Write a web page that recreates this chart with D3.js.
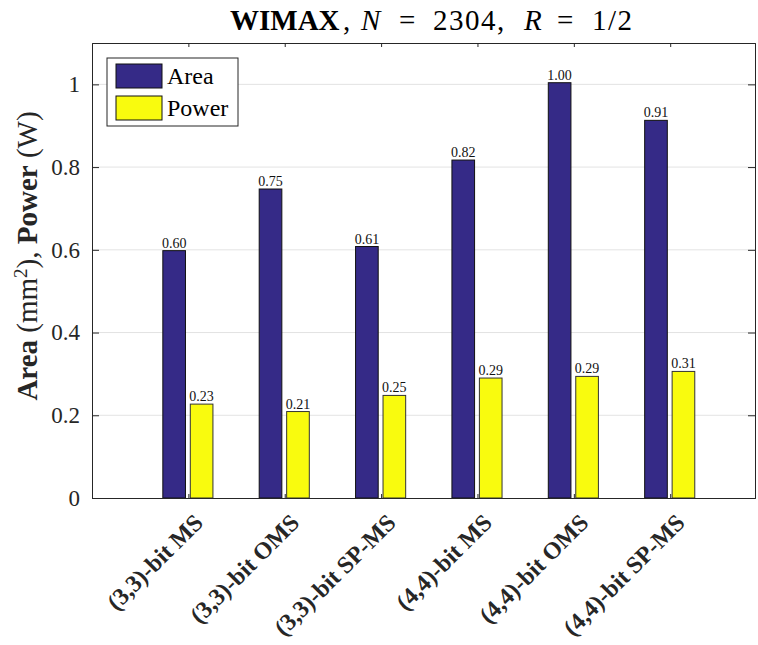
<!DOCTYPE html>
<html lang="en">
<head>
  <meta charset="UTF-8">
  <title>WIMAX Area / Power</title>
  <script src="https://cdn.jsdelivr.net/npm/d3@7"></script>
  <style>
    body { margin: 0; background: white; }
    svg { display: block; font-family: "Liberation Serif", "DejaVu Serif", serif; }
  </style>
</head>
<body>
  <div id="chart"></div>
  <script>
    const categories = ['(3,3)-bit MS', '(3,3)-bit OMS', '(3,3)-bit SP-MS', '(4,4)-bit MS', '(4,4)-bit OMS', '(4,4)-bit SP-MS']
    const areaValues = [0.598, 0.747, 0.608, 0.817, 1.004, 0.913]
    const powerValues = [0.227, 0.209, 0.248, 0.290, 0.294, 0.306]
    const yTicks = [0, 0.2, 0.4, 0.6, 0.8, 1]
    const seriesNames = ['Area', 'Power']
    const seriesColors = ['#352a87', '#f9fb0e']

    const width = 758
    const height = 645

    const svg = d3.select('#chart')
      .append('svg')
      .attr('width', width)
      .attr('height', height)

    const x = d3.scaleLinear().domain([0, 6.88]).range([92, 755])
    const y = d3.scaleLinear().domain([0, 1.1]).range([498, 43])

    // grid lines
    svg.append('g')
      .selectAll('line')
      .data(yTicks.slice(1))
      .enter()
      .append('line')
      .attr('x1', x(0)).attr('x2', x(6.88))
      .attr('y1', d => y(d)).attr('y2', d => y(d))
      .attr('stroke', '#e3e3e3')
      .attr('stroke-width', 1)

    // bars
    const series = [areaValues, powerValues]
    const offsets = [-0.265, 0.02]
    const barW = 0.235

    series.forEach((vals, s) => {
      const g = svg.append('g')
      g.selectAll('rect')
        .data(vals)
        .enter()
        .append('rect')
        .attr('x', (d, i) => x(i + 1 + offsets[s]))
        .attr('y', d => y(d))
        .attr('width', x(barW) - x(0))
        .attr('height', d => y(0) - y(d))
        .attr('fill', seriesColors[s])
        .attr('stroke', s === 0 ? '#111' : '#333')
        .attr('stroke-width', 1)

      g.selectAll('text')
        .data(vals)
        .enter()
        .append('text')
        .attr('x', (d, i) => x(i + 1 + offsets[s] + barW / 2))
        .attr('y', d => y(d) - 3)
        .attr('text-anchor', 'middle')
        .style('font-size', '14px')
        .attr('fill', '#111')
        .text(d => d.toFixed(2))
    })

    // axes (box with inward ticks)
    const axisL = d3.axisLeft(y).tickValues(yTicks).tickSize(-7).tickPadding(12).tickFormat(d3.format('~g'))
    const axisR = d3.axisRight(y).tickValues(yTicks).tickSize(-7).tickFormat('')
    const axisB = d3.axisBottom(x).tickValues(d3.range(1, 7)).tickSize(-4).tickFormat('')
    const axisT = d3.axisTop(x).tickValues(d3.range(1, 7)).tickSize(-4).tickFormat('')

    const styleAxis = g => {
      g.select('.domain').attr('stroke', '#262626').attr('stroke-width', 1)
      g.selectAll('.tick line').attr('stroke', '#262626')
      g.selectAll('.tick text')
        .attr('fill', '#262626')
        .style('font-size', '23px')
        .style('font-family', '"Liberation Serif", serif')
    }

    svg.append('g').attr('transform', `translate(${x(0)},0)`).call(axisL).call(styleAxis)
    svg.append('g').attr('transform', `translate(${x(6.88)},0)`).call(axisR).call(styleAxis)
    svg.append('g').attr('transform', `translate(0,${y(0)})`).call(axisB).call(styleAxis)
    svg.append('g').attr('transform', `translate(0,${y(1.1)})`).call(axisT).call(styleAxis)

    // rotated category labels
    svg.append('g')
      .selectAll('text')
      .data(categories)
      .enter()
      .append('text')
      .attr('transform', (d, i) => `translate(${x(i + 1) + 16},${y(0) + 26}) rotate(-45)`)
      .attr('text-anchor', 'end')
      .attr('font-weight', 'bold')
      .style('font-size', '24px')
      .attr('fill', '#262626')
      .text(d => d)

    // title, pieces spaced like the LaTeX rendering
    const title = svg.append('text')
      .attr('y', 30)
      .style('font-size', '29px')
      .style('font-family', '"Liberation Serif", serif')
      .attr('fill', '#000')
    title.append('tspan').attr('x', 230).attr('font-weight', 'bold').text('WIMAX')
    title.append('tspan').attr('x', 343).text(',')
    title.append('tspan').attr('x', 361).attr('font-style', 'italic').text('N')
    title.append('tspan').attr('x', 399).text('=')
    title.append('tspan').attr('x', 433).style('letter-spacing', '1.5px').text('2304,')
    title.append('tspan').attr('x', 524).attr('font-style', 'italic').text('R')
    title.append('tspan').attr('x', 557).text('=')
    title.append('tspan').attr('x', 592).style('letter-spacing', '1.5px').text('1/2')

    // y label
    const ylab = svg.append('text')
      .attr('transform', 'translate(37,256) rotate(-90)')
      .attr('text-anchor', 'middle')
      .style('font-size', '29px')
      .attr('fill', '#262626')
    ylab.append('tspan').attr('font-weight', 'bold').text('Area')
    ylab.append('tspan').text(' (mm')
    ylab.append('tspan').attr('baseline-shift', 'super').style('font-size', '19px').text('2')
    ylab.append('tspan').text('), ')
    ylab.append('tspan').attr('font-weight', 'bold').text('Power')
    ylab.append('tspan').text(' (W)')

    // legend
    const legend = svg.append('g').attr('transform', 'translate(107,58)')
    legend.append('rect')
      .attr('width', 131).attr('height', 68)
      .attr('fill', 'white').attr('stroke', '#262626').attr('stroke-width', 1)
    legend.selectAll('.sw')
      .data(seriesNames)
      .enter()
      .append('rect')
      .attr('x', 9)
      .attr('y', (d, i) => 6 + i * 32)
      .attr('width', 46).attr('height', 24)
      .attr('fill', (d, i) => seriesColors[i])
      .attr('stroke', '#111')
    legend.selectAll('text')
      .data(seriesNames)
      .enter()
      .append('text')
      .attr('x', 60)
      .attr('y', (d, i) => 26 + i * 32)
      .style('font-size', '24px')
      .attr('fill', '#000')
      .text(d => d)
  </script>
</body>
</html>
